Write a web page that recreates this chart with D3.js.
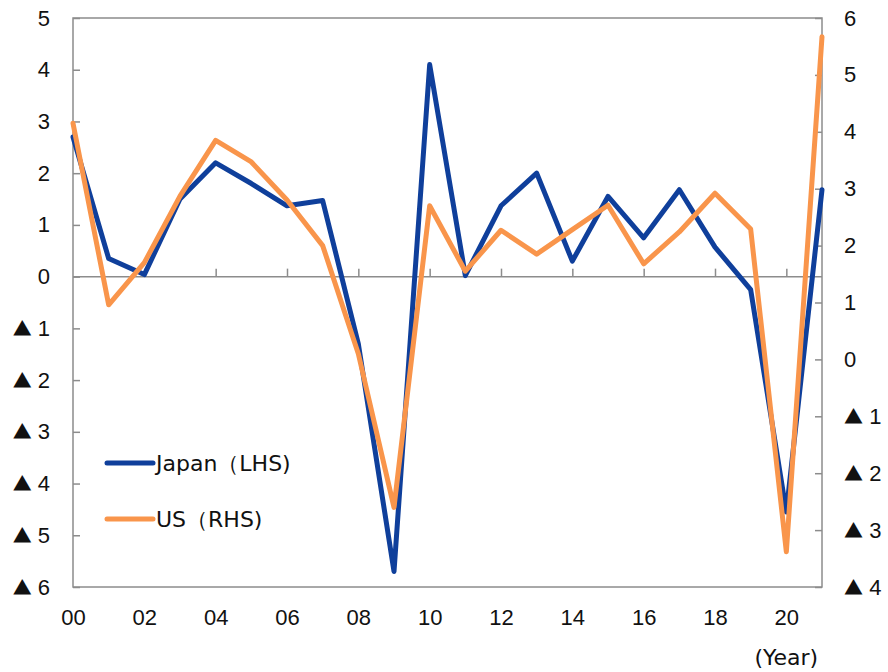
<!DOCTYPE html>
<html>
<head>
<meta charset="utf-8">
<script src="https://cdn.jsdelivr.net/npm/d3@7/dist/d3.min.js"></script>
<style>
  html, body { margin: 0; padding: 0; background: #fff; }
  svg { display: block; font-family: "DejaVu Sans", Verdana, sans-serif; }
</style>
</head>
<body>
<svg id="chart" width="888" height="672"></svg>
<script>
// Real GDP growth, calendar years 2000-2021 (%)
const years = d3.range(0, 22);
const yearLabels = ["00","02","04","06","08","10","12","14","16","18","20"];
const japan = [2.7, 0.35, 0.04, 1.5, 2.2, 1.8, 1.37, 1.47, -1.3, -5.7, 4.1, 0.02,
               1.37, 2.0, 0.3, 1.55, 0.75, 1.68, 0.57, -0.25, -4.55, 1.68];
const us = [4.15, 0.96, 1.7, 2.87, 3.85, 3.47, 2.8, 2.0, 0.1, -2.6, 2.7, 1.55,
            2.27, 1.85, 2.28, 2.71, 1.68, 2.24, 2.92, 2.29, -3.38, 5.67];
const leftTicks = [5, 4, 3, 2, 1, 0, -1, -2, -3, -4, -5, -6];
const rightTicks = [6, 5, 4, 3, 2, 1, 0, -1, -2, -3, -4];
const seriesNames = ["Japan\uFF08LHS)", "US\uFF08RHS)"];

const svg = d3.select("#chart");
const plotLeft = 73, plotRight = 822, plotTop = 18, plotBottom = 587;
const axisColor = "#8c8c8c";
const blue = "#0F3F9B", orange = "#F9954B";
const fontSize = "22px";

const x = d3.scaleLinear().domain([0, 21]).range([plotLeft, plotRight]);
const yL = d3.scaleLinear().domain([-6, 5]).range([plotBottom, plotTop]);
const yR = d3.scaleLinear().domain([-4, 6]).range([plotBottom, plotTop]);

// plot frame
svg.append("rect")
  .attr("x", plotLeft).attr("y", plotTop)
  .attr("width", plotRight - plotLeft).attr("height", plotBottom - plotTop)
  .attr("fill", "none").attr("stroke", axisColor).attr("stroke-width", 1.5);

function styleAxis(g) {
  g.select(".domain").remove();
  g.selectAll(".tick line").attr("stroke", axisColor).attr("stroke-width", 1.5);
  g.selectAll(".tick text").attr("fill", "#111").style("font-size", fontSize);
}

// negative values are written with a full-width triangle: "▲ 1"
function triangleLabels(g) {
  g.selectAll(".tick text").each(function (d) {
    if (d >= 0) return;
    const t = d3.select(this).text("");
    t.append("tspan")
      .style("font-family", "'Noto Sans CJK JP', sans-serif")
      .style("font-size", "19px")
      .text("\u25B2");
    t.append("tspan").text(" " + (-d));
  });
}

// left axis (Japan)
svg.append("g")
  .attr("transform", `translate(${plotLeft},0)`)
  .call(d3.axisLeft(yL).tickValues(leftTicks).tickFormat(String).tickSize(-7).tickPadding(23))
  .call(styleAxis)
  .call(triangleLabels);

// right axis (US)
svg.append("g")
  .attr("transform", `translate(${plotRight},0)`)
  .call(d3.axisRight(yR).tickValues(rightTicks).tickFormat(String).tickSize(-7).tickPadding(22))
  .call(styleAxis)
  .call(triangleLabels);

// zero line with year ticks
svg.append("line")
  .attr("x1", plotLeft).attr("x2", plotRight)
  .attr("y1", yL(0)).attr("y2", yL(0))
  .attr("stroke", axisColor).attr("stroke-width", 1.5);

const evenYears = years.filter(d => d % 2 === 0);
svg.append("g")
  .attr("transform", `translate(0,${yL(0)})`)
  .call(d3.axisBottom(x).tickValues(evenYears.slice(1)).tickFormat("").tickSize(-8))
  .call(styleAxis);

// year labels below the plot
svg.append("g")
  .attr("transform", `translate(0,${plotBottom})`)
  .call(d3.axisBottom(x).tickValues(evenYears).tickFormat((d, i) => yearLabels[i]).tickSize(0).tickPadding(22))
  .call(styleAxis);

svg.append("text")
  .attr("x", x(20)).attr("y", 665)
  .attr("text-anchor", "middle")
  .style("font-size", fontSize).attr("fill", "#111")
  .text("(Year)");

// series lines
const lineL = d3.line().x((d, i) => x(years[i])).y(d => yL(d));
const lineR = d3.line().x((d, i) => x(years[i])).y(d => yR(d));

svg.append("path").datum(japan)
  .attr("d", lineL).attr("fill", "none")
  .attr("stroke", blue).attr("stroke-width", 5)
  .attr("stroke-linejoin", "round").attr("stroke-linecap", "round");

svg.append("path").datum(us)
  .attr("d", lineR).attr("fill", "none")
  .attr("stroke", orange).attr("stroke-width", 5)
  .attr("stroke-linejoin", "round").attr("stroke-linecap", "round");

// legend
const legend = svg.append("g");
[[blue, 463], [orange, 519]].forEach(([c, yy], i) => {
  legend.append("line")
    .attr("x1", 107).attr("x2", 153).attr("y1", yy).attr("y2", yy)
    .attr("stroke", c).attr("stroke-width", 5).attr("stroke-linecap", "round");
  legend.append("text")
    .attr("x", 156).attr("y", yy).attr("dy", "0.35em")
    .style("font-size", fontSize).attr("fill", "#111")
    .text(seriesNames[i]);
});
</script>
</body>
</html>
